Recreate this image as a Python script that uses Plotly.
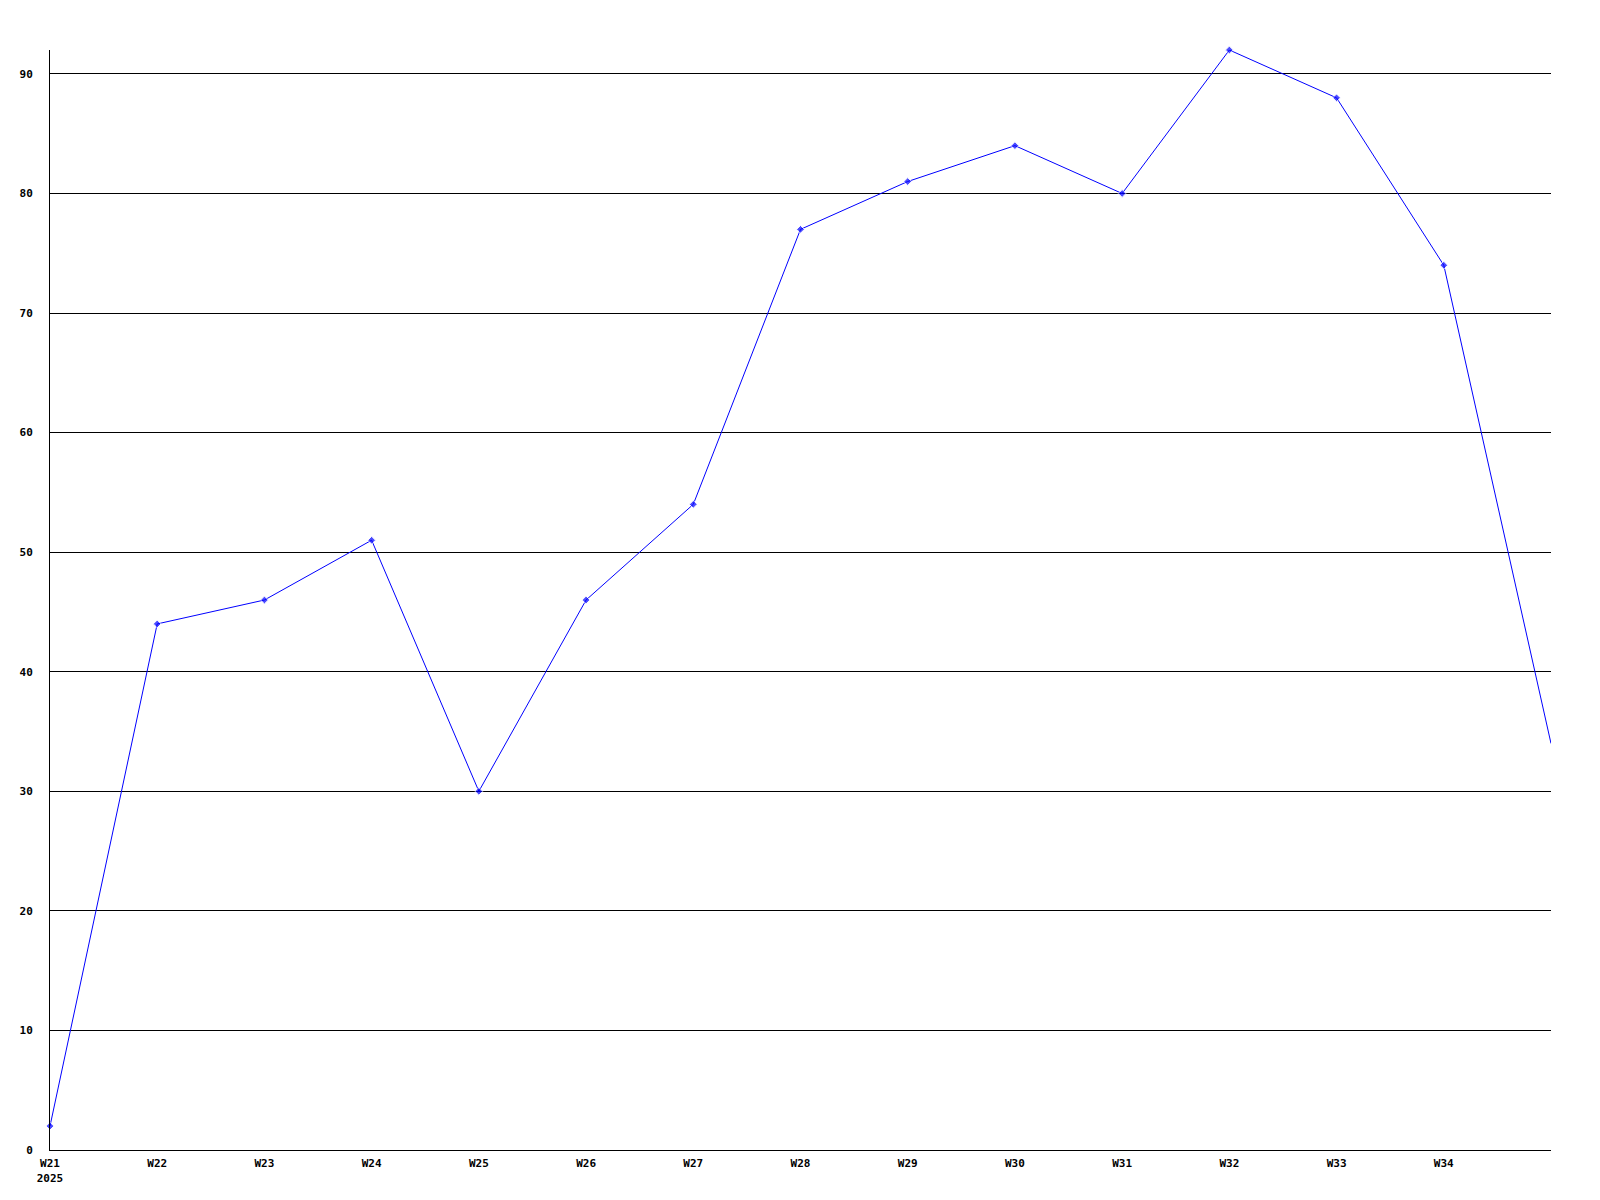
import plotly.graph_objects as go

weeks = ["W21", "W22", "W23", "W24", "W25", "W26", "W27", "W28", "W29", "W30",
         "W31", "W32", "W33", "W34", "W35"]
values = [2, 44, 46, 51, 30, 46, 54, 77, 81, 84, 80, 92, 88, 74, 34]
year_label = "2025"
y_ticks = [0, 10, 20, 30, 40, 50, 60, 70, 80, 90]

x_idx = list(range(len(weeks)))
tick_vals = x_idx[:-1]
tick_text = [weeks[0] + "<br>" + year_label] + weeks[1:-1]
marker_sizes = [6] * (len(values) - 1) + [0]

fig = go.Figure()
fig.add_trace(go.Scatter(
    x=x_idx, y=values, mode="lines+markers",
    line=dict(color="#0000ff", width=1),
    marker=dict(symbol="diamond", size=marker_sizes, color="#0000ff"),
    cliponaxis=False, showlegend=False, hoverinfo="skip",
))

font = dict(family="DejaVu Sans Mono", size=11, color="black", weight="bold")

fig.update_layout(
    width=1600, height=1200,
    margin=dict(l=42, r=57, t=42, b=58),
    paper_bgcolor="white", plot_bgcolor="white",
    font=font,
)
fig.update_xaxes(
    range=[0, len(weeks) - 1], tickvals=tick_vals, ticktext=tick_text,
    showgrid=False, zeroline=False, showline=True, linecolor="black", linewidth=1,
    ticks="", tickfont=font, ticklabelstandoff=3,
)
fig.update_yaxes(
    range=[0, 92], tickvals=y_ticks, showgrid=True, gridcolor="black", gridwidth=1,
    zeroline=False, showline=True, linecolor="black", linewidth=1,
    ticks="", tickfont=font, ticklabelstandoff=14,
)
fig.write_html("out.html")
